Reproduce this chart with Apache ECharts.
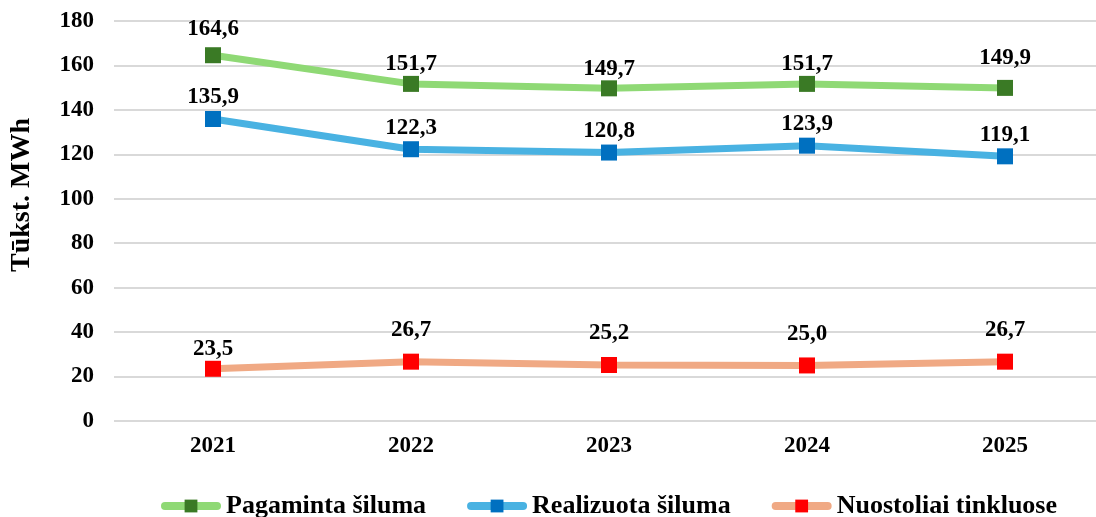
<!DOCTYPE html>
<html>
<head>
<meta charset="utf-8">
<script src="https://cdn.jsdelivr.net/npm/echarts@6/dist/echarts.min.js"></script>
<style>
  html, body { margin: 0; padding: 0; background: #fff; }
  #chart { width: 1096px; height: 517px; }
</style>
</head>
<body>
<div id="chart"></div>
<script>
var years = ["2021", "2022", "2023", "2024", "2025"];
var pagaminta = [164.6, 151.7, 149.7, 151.7, 149.9];
var realizuota = [135.9, 122.3, 120.8, 123.9, 119.1];
var nuostoliai = [23.5, 26.7, 25.2, 25.0, 26.7];

var font = "'Liberation Serif', 'Times New Roman', serif";

function fmt(p) {
  return p.value.toFixed(1).replace(".", ",");
}

// labels in the original are nudged by hand, so some points get their own distance
function makeSeries(name, data, lineColor, markColor, dist, nudge) {
  nudge = nudge || {};
  return {
    name: name,
    type: "line",
    data: data.map(function (v, i) {
      return i in nudge ? { value: v, label: { distance: nudge[i] } } : v;
    }),
    symbol: "rect",
    symbolSize: 16,
    lineStyle: { color: lineColor, width: 7 },
    itemStyle: { color: markColor },
    label: {
      show: true,
      position: "top",
      distance: dist,
      formatter: fmt,
      color: "#000",
      fontFamily: font,
      fontWeight: "bold",
      fontSize: 23
    }
  };
}

var myChart = echarts.init(document.getElementById("chart"));
var option = {
  animation: false,
  textStyle: { fontFamily: font },
  grid: { left: 114, top: 21, width: 990, height: 400, outerBoundsMode: "none" },
  legend: {
    top: 488,
    left: 156,
    itemWidth: 52,
    itemHeight: 16,
    itemGap: 41,
    lineStyle: { width: 8, cap: "round" },
    textStyle: { color: "#000", fontFamily: font, fontWeight: "bold", fontSize: 26, padding: [0, 0, 0, 4] },
    data: ["Pagaminta šiluma", "Realizuota šiluma", "Nuostoliai tinkluose"]
  },
  xAxis: {
    type: "category",
    data: years,
    axisLine: { show: false },
    axisTick: { show: false },
    axisLabel: { color: "#000", fontFamily: font, fontWeight: "bold", fontSize: 23, margin: 14 }
  },
  yAxis: {
    type: "value",
    min: 0,
    max: 180,
    interval: 20,
    name: "Tūkst. MWh",
    nameLocation: "middle",
    nameGap: 78,
    nameTextStyle: { color: "#000", fontFamily: font, fontWeight: "bold", fontSize: 28, padding: [0, 0, 0, 52] },
    axisLabel: { color: "#000", fontFamily: font, fontWeight: "bold", fontSize: 23, margin: 20 },
    splitLine: { lineStyle: { color: "#d9d9d9", width: 2 } }
  },
  series: [
    makeSeries("Pagaminta šiluma", pagaminta, "#8fd975", "#3a7a25", 0, { 0: 7, 4: 10 }),
    makeSeries("Realizuota šiluma", realizuota, "#49b2e2", "#0070c0", 2),
    makeSeries("Nuostoliai tinkluose", nuostoliai, "#f0a984", "#ff0000", 12, { 0: 0 })
  ]
};
myChart.setOption(option);
</script>
</body>
</html>
